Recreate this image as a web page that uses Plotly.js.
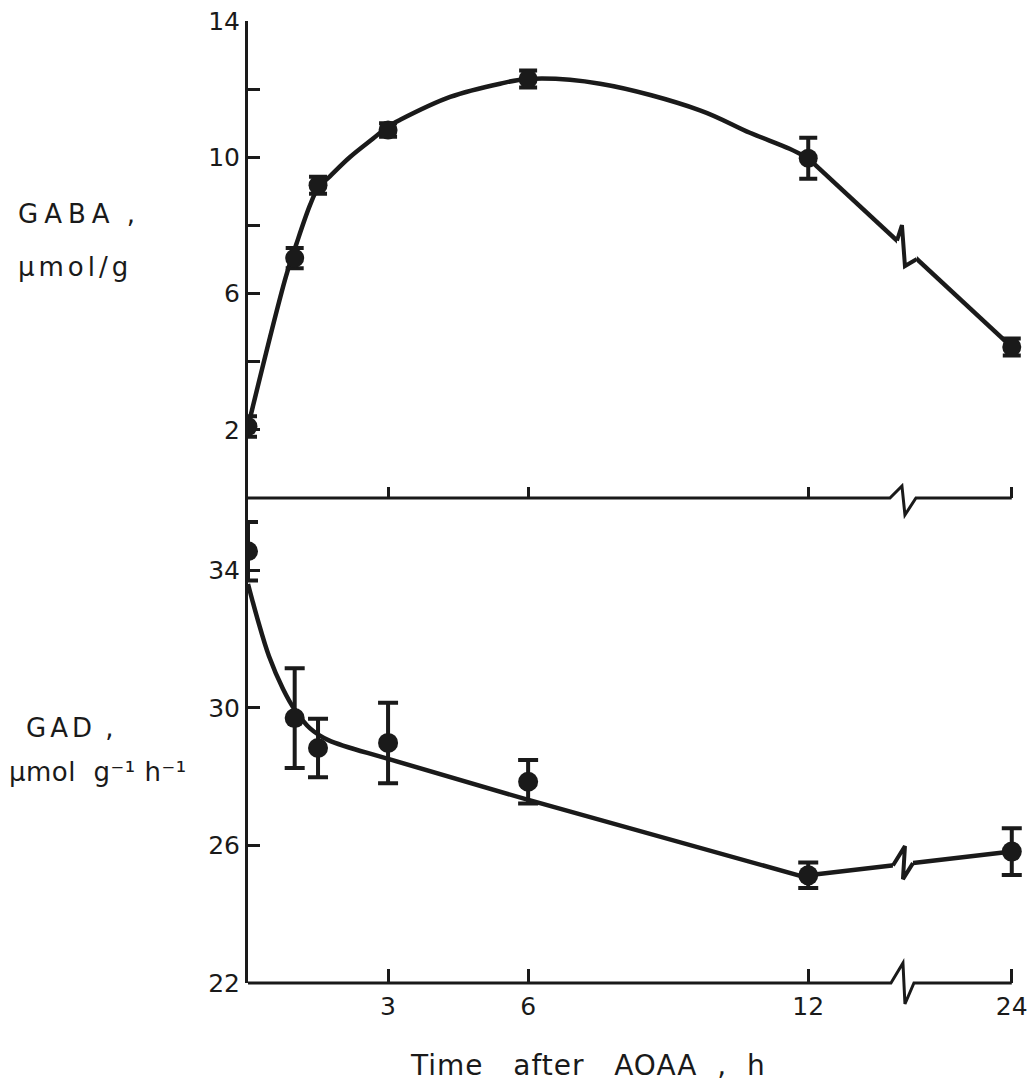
<!DOCTYPE html>
<html>
<head>
<meta charset="utf-8">
<script src="https://cdn.plot.ly/plotly-3.0.1.min.js"></script>
<style>
  body { margin: 0; background: #ffffff; }
  g.annotation[data-index="0"] text.annotation-text { letter-spacing: 6px; }
  g.annotation[data-index="1"] text.annotation-text { letter-spacing: 4px; }
  g.annotation[data-index="2"] text.annotation-text { letter-spacing: 4px; }
  g.annotation[data-index="3"] text.annotation-text { letter-spacing: 0.5px; }
  g.annotation[data-index="4"] text.annotation-text { letter-spacing: 1px; }
</style>
</head>
<body>
<div id="chart" style="width:1034px;height:1083px;"></div>
<script>
// ---- data ----
const hours = [0, 1, 1.5, 3, 6, 12, 24];
const gabaValues = [2.1, 7.04, 9.18, 10.8, 12.3, 9.97, 4.43];
const gabaErrors = [0.3, 0.3, 0.25, 0.2, 0.25, 0.6, 0.25];
const gadValues = [34.55, 29.7, 28.83, 28.98, 27.85, 25.13, 25.82];
const gadErrors = [0.85, 1.45, 0.85, 1.17, 0.63, 0.37, 0.68];

// hand-drawn fitted curves (0-12 h)
const gabaCurveHours = [0, 0.81, 1.04, 1.33, 1.5, 1.76, 2.18, 2.68, 3, 3.26, 4.33, 5.4, 6, 7.54, 9.68, 10.75, 11.6, 12];
const gabaCurveValues = [2.1, 6.49, 7.47, 8.6, 9.1, 9.45, 10.0, 10.55, 10.9, 11.1, 11.77, 12.16, 12.3, 12.16, 11.38, 10.72, 10.25, 9.97];
const gadCurveHours = [0, 0.2, 0.45, 0.75, 1.0, 1.33, 1.72, 3.04, 5.93, 12];
const gadCurveValues = [33.6, 32.6, 31.5, 30.55, 29.95, 29.4, 29.06, 28.5, 27.35, 25.05];

const timeTicks = [3, 6, 12, 24];
const timeTickLabels = ['3', '6', '12', '24'];
const gabaTicks = [2, 6, 10, 14];
const gabaTickLabels = ['2', '6', '10', '14'];
const gabaMinorTicks = [4, 8, 12];
const gadTicks = [22, 26, 30, 34];
const gadTickLabels = ['22', '26', '30', '34'];

// ---- layout geometry ----
const W = 1034, H = 1083, ML = 248, MR = 11, MT = 21, MB = 100;
const X_MAX = 16.6;
const SPLIT = 0.5042;
const GABA_RANGE = [0, 14];
const GAD_RANGE = [22, 36.1];
const LATE = 0.3633;      // compression of the axis after the break
const BREAK_AT = 14.05;   // display position of the break glyph
const INK = '#1a1a1a';

const disp = h => (h <= 12 ? h : 12 + (h - 12) * LATE);

const plotW = W - ML - MR, plotH = H - MT - MB;
const base = H - MB;
const splitPix = MT + plotH * (1 - SPLIT);
const xPix = d => ML + d / X_MAX * plotW;
const topPix = v => splitPix - (v - GABA_RANGE[0]) / (GABA_RANGE[1] - GABA_RANGE[0]) * (splitPix - MT);
const botPix = v => base - (v - GAD_RANGE[0]) / (GAD_RANGE[1] - GAD_RANGE[0]) * (base - splitPix);
const paperX = px => (px - ML) / plotW;
const paperY = py => (base - py) / plotH;
const pathOf = (pts, close) => pts.map((p, i) => (i ? 'L' : 'M') + paperX(p[0]).toFixed(5) + ',' + paperY(p[1]).toFixed(5)).join(' ') + (close ? ' Z' : '');

const cx = xPix(BREAK_AT);
const xEnd = xPix(disp(24));

// line through the 12 h and 24 h points (pixel space) used to place the break glyph
function lineAt(px, valFn, vals) {
  const x0 = xPix(disp(12)), x1 = xPix(disp(24));
  const y0 = valFn(vals[5]), y1 = valFn(vals[6]);
  return y0 + (y1 - y0) * (px - x0) / (x1 - x0);
}

const shapes = [];
// top x axis with break
shapes.push({type: 'path', xref: 'paper', yref: 'paper', layer: 'above',
  path: pathOf([[ML, splitPix], [cx - 14, splitPix], [cx - 2, splitPix - 12], [cx + 1, splitPix + 17], [cx + 12, splitPix], [xEnd, splitPix]]),
  line: {color: INK, width: 3}});
// bottom x axis with break
shapes.push({type: 'path', xref: 'paper', yref: 'paper', layer: 'above',
  path: pathOf([[ML, base], [cx - 13, base], [cx - 1, base - 20], [cx + 1, base + 21], [cx + 10, base], [xEnd, base]]),
  line: {color: INK, width: 3}});

function dataBreak(valFn, vals, l, r, peak, trough) {
  const yc = lineAt(cx, valFn, vals);
  const yl = lineAt(cx + l, valFn, vals), yr = lineAt(cx + r, valFn, vals);
  shapes.push({type: 'path', xref: 'paper', yref: 'paper', layer: 'above',
    path: pathOf([[cx + l, yl - 6], [cx + r, yr - 6], [cx + r, yr + 6], [cx + l, yl + 6]], true),
    fillcolor: '#ffffff', line: {width: 0}});
  shapes.push({type: 'path', xref: 'paper', yref: 'paper', layer: 'above',
    path: pathOf([[cx + l, yl], [cx + peak[0], yc - peak[1]], [cx + trough[0], yc + trough[1]], [cx + r, yr]]),
    line: {color: INK, width: 4}});
}
dataBreak(topPix, gabaValues, -7, 13, [-2, 22], [1, 19]);
dataBreak(botPix, gadValues, -11, 9, [1, 18], [-1, 15]);

const lineStyle = {color: INK, width: 4.5};
const traces = [
  {x: gabaCurveHours.map(disp), y: gabaCurveValues, xaxis: 'x2', yaxis: 'y2', mode: 'lines',
   line: Object.assign({shape: 'spline', smoothing: 1.0}, lineStyle), hoverinfo: 'skip'},
  {x: [disp(hours[5]), disp(hours[6])], y: [gabaValues[5], gabaValues[6]], xaxis: 'x2', yaxis: 'y2', mode: 'lines',
   line: lineStyle, hoverinfo: 'skip'},
  {x: hours.map(disp), y: gabaValues, xaxis: 'x2', yaxis: 'y2', mode: 'markers',
   marker: {size: 19, color: INK},
   error_y: {type: 'data', array: gabaErrors, visible: true, color: INK, thickness: 4, width: 9}},
  {x: gadCurveHours.map(disp), y: gadCurveValues, xaxis: 'x', yaxis: 'y', mode: 'lines',
   line: Object.assign({shape: 'spline', smoothing: 1.0}, lineStyle), hoverinfo: 'skip'},
  {x: [disp(hours[5]), disp(hours[6])], y: [gadValues[5], gadValues[6]], xaxis: 'x', yaxis: 'y', mode: 'lines',
   line: lineStyle, hoverinfo: 'skip'},
  {x: hours.map(disp), y: gadValues, xaxis: 'x', yaxis: 'y', mode: 'markers',
   marker: {size: 20, color: INK},
   error_y: {type: 'data', array: gadErrors, visible: true, color: INK, thickness: 4, width: 10}}
];

const tickFont = {family: 'DejaVu Sans, sans-serif', size: 25, color: INK};
const labelFont = {family: 'DejaVu Sans, sans-serif', size: 26, color: INK};

const annotations = [
  {text: 'GABA\u2009,', x: paperX(16), y: paperY(214)},
  {text: 'µmol/g', x: paperX(16), y: paperY(267)},
  {text: 'GAD\u2009,', x: paperX(24), y: paperY(728)},
  {text: 'µmol\u00a0\u00a0g\u207b\u00b9\u00a0h\u207b\u00b9', x: paperX(7), y: paperY(772)},
].map(a => Object.assign(a, {xref: 'paper', yref: 'paper', xanchor: 'left', yanchor: 'middle',
  align: 'left', showarrow: false, font: labelFont}));
annotations.push({text: 'Time\u00a0\u00a0\u00a0after\u00a0\u00a0\u00a0AOAA\u00a0\u00a0,\u00a0\u00a0h',
  x: paperX(408), y: paperY(1065), xref: 'paper', yref: 'paper', xanchor: 'left', yanchor: 'middle',
  align: 'left', showarrow: false, font: {family: 'DejaVu Sans, sans-serif', size: 28, color: INK}});

const commonX = {range: [0, X_MAX], showgrid: false, zeroline: false, showline: false,
  ticks: 'inside', tickwidth: 3, tickcolor: INK, tickvals: timeTicks.map(disp), ticktext: timeTickLabels,
  tickfont: tickFont, fixedrange: true};
const commonY = {showgrid: false, zeroline: false, showline: true, linewidth: 3, linecolor: INK,
  ticks: 'inside', ticklen: 12, tickwidth: 3, tickcolor: INK, tickfont: tickFont, fixedrange: true};

const layout = {
  width: W, height: H,
  margin: {l: ML, r: MR, t: MT, b: MB},
  paper_bgcolor: '#ffffff', plot_bgcolor: 'rgba(0,0,0,0)',
  showlegend: false,
  xaxis: Object.assign({}, commonX, {anchor: 'y', ticklen: 14, ticklabelstandoff: 6}),
  xaxis2: Object.assign({}, commonX, {anchor: 'y2', ticklen: 11, showticklabels: false}),
  yaxis: Object.assign({}, commonY, {domain: [0, SPLIT], range: GAD_RANGE, tickvals: gadTicks, ticktext: gadTickLabels, anchor: 'x'}),
  yaxis2: Object.assign({}, commonY, {domain: [SPLIT, 1], range: GABA_RANGE, tickvals: gabaTicks, ticktext: gabaTickLabels, anchor: 'x2',
    minor: {tickvals: gabaMinorTicks, ticks: 'inside', ticklen: 12, tickwidth: 3, tickcolor: INK, showgrid: false}}),
  shapes: shapes,
  annotations: annotations
};

Plotly.newPlot('chart', traces, layout, {displayModeBar: false, staticPlot: true});
</script>
</body>
</html>
